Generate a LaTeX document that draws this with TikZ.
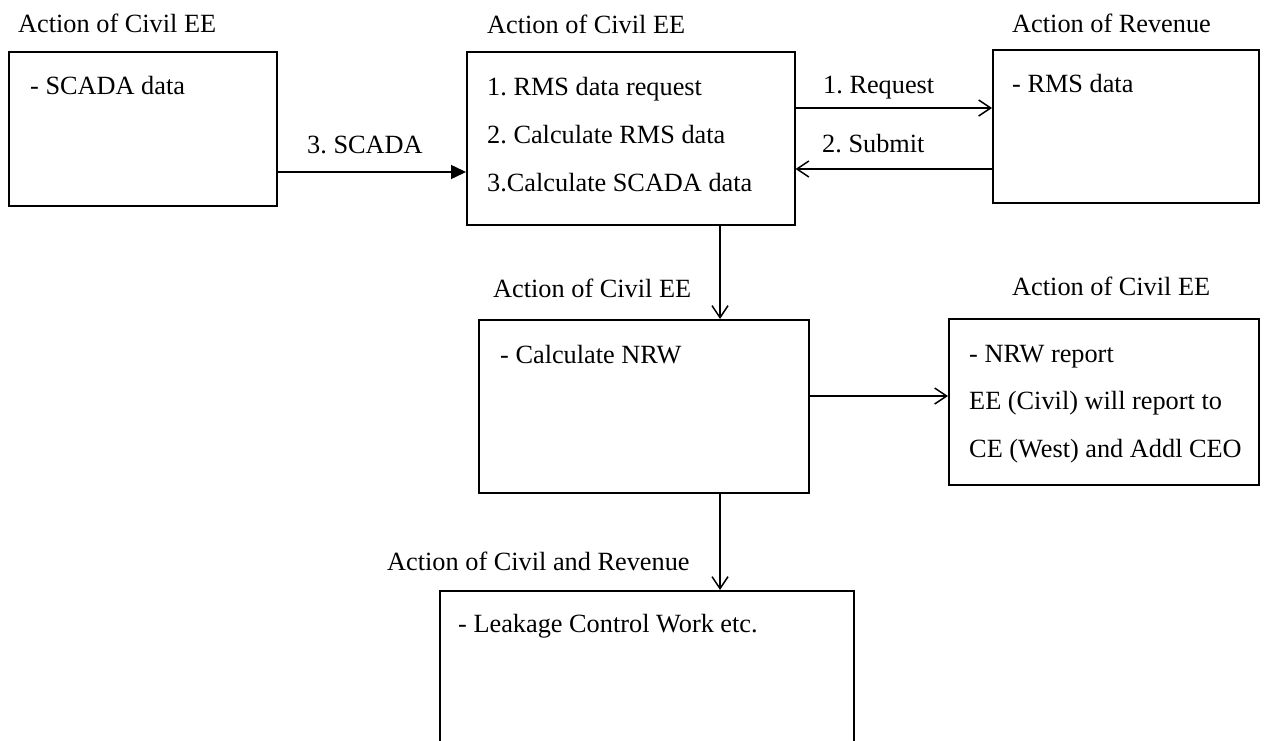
\documentclass[tikz,border=0pt]{standalone}
\usepackage{fontspec}
\setmainfont{Liberation Serif}
\usetikzlibrary{arrows.meta}
\frenchspacing

\tikzset{
  box/.style={draw=black, line width=1.5pt, inner sep=0pt, anchor=north west},
  txt/.style={anchor=base west, inner sep=0pt},
  arr/.style={line width=1.5pt, -{Straight Barb[length=12pt,width=16pt,line width=1.5pt]}},
  arrfill/.style={line width=1.5pt, -{Triangle[length=15pt,width=14pt]}},
}

\begin{document}
\begin{tikzpicture}[x=1pt, y=-1pt, font=\fontsize{26.3}{30}\selectfont]
\useasboundingbox (0,0) rectangle (1273,740);
\clip (0,0) rectangle (1273,740);

% boxes
\node[box, minimum width=268pt, minimum height=154pt] (b1) at (8,51) {};
\node[box, minimum width=328pt, minimum height=173pt] (b2) at (466,51) {};
\node[box, minimum width=266pt, minimum height=153pt] (b3) at (992,49) {};
\node[box, minimum width=330pt, minimum height=173pt] (b4) at (478,319) {};
\node[box, minimum width=310pt, minimum height=166pt] (b5) at (948,318) {};
\node[box, minimum width=414pt, minimum height=170pt] (b6) at (439,590) {};

% headings above the boxes
\node[txt] (h1) at (18,32) {Action of Civil EE};
\node[txt] (h2) at (487,33) {Action of Civil EE};
\node[txt] (h3) at (1012,32) {Action of Revenue};
\node[txt] (h4) at (493,297) {Action of Civil EE};
\node[txt] (h5) at (1012,295) {Action of Civil EE};
\node[txt] (h6) at (387,570) {Action of Civil and Revenue};

% box contents
\node[txt] (t1) at (30,94) {- SCADA data};
\node[txt] (t2a) at (487,95) {1. RMS data request};
\node[txt] (t2b) at (487,143) {2. Calculate RMS data};
\node[txt] (t2c) at (487,191) {3.Calculate SCADA data};
\node[txt] (t3) at (1012,92) {- RMS data};
\node[txt] (t4) at (500,363) {- Calculate NRW};
\node[txt] (t5a) at (969,362) {- NRW report};
\node[txt] (t5b) at (969,409) {EE (Civil) will report to};
\node[txt] (t5c) at (969,457) {CE (West) and Addl CEO};
\node[txt] (t6) at (458,632) {- Leakage Control Work etc.};

% connector labels
\node[txt] (l1) at (307,153) {3. SCADA};
\node[txt] (l2) at (823,93) {1. Request};
\node[txt] (l3) at (822,152) {2. Submit};

% connectors
\draw[arrfill] (b1.east |- 0,172) -- (b2.west |- 0,172);
\draw[arr] (b2.east |- 0,108) -- (b3.west |- 0,108);
\draw[arr] (b3.west |- 0,169) -- (b2.east |- 0,169);
\draw[arr] (720,0 |- b2.south) -- (720,0 |- b4.north);
\draw[arr] (b4.east |- 0,396) -- (b5.west |- 0,396);
\draw[arr] (720,0 |- b4.south) -- (720,0 |- b6.north);
\end{tikzpicture}
\end{document}
